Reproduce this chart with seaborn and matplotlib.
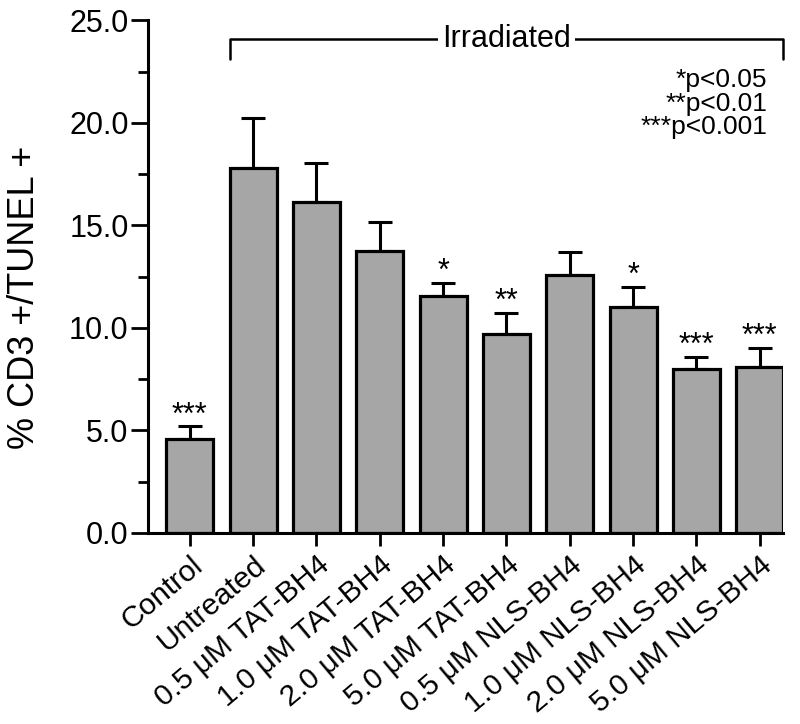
import numpy as np
import pandas as pd
import matplotlib
matplotlib.use("Agg")
import matplotlib.pyplot as plt
from matplotlib.ticker import MultipleLocator, FormatStrFormatter
import seaborn as sns

# values
groups = [
    "Control",
    "Untreated",
    "0.5 \u03bcM TAT-BH4",
    "1.0 \u03bcM TAT-BH4",
    "2.0 \u03bcM TAT-BH4",
    "5.0 \u03bcM TAT-BH4",
    "0.5 \u03bcM NLS-BH4",
    "1.0 \u03bcM NLS-BH4",
    "2.0 \u03bcM NLS-BH4",
    "5.0 \u03bcM NLS-BH4",
]
means = [4.59, 17.78, 16.12, 13.76, 11.56, 9.68, 12.57, 11.01, 7.97, 8.08]
upper = [5.19, 20.24, 18.02, 15.16, 12.21, 10.73, 13.68, 11.99, 8.60, 9.01]
stars = ["***", "", "", "", "*", "**", "", "*", "***", "***"]

sns.set_style("ticks", {
    "text.color": "black", "axes.labelcolor": "black",
    "xtick.color": "black", "ytick.color": "black",
    "axes.edgecolor": "black",
})
plt.rcParams["font.family"] = ["Liberation Sans", "DejaVu Sans"]

df = pd.DataFrame({"group": groups, "pct": means})
err = np.array(upper) - np.array(means)

fig, ax = plt.subplots(figsize=(8, 7.24), dpi=100)
fig.subplots_adjust(left=0.185, right=0.979, bottom=0.264, top=0.972)

sns.barplot(
    data=df, x="group", y="pct",
    color="#a6a6a6", edgecolor="black", linewidth=2.3,
    width=0.74, saturation=1, ax=ax, zorder=2
)

xs = np.arange(len(groups))
ax.errorbar(
    xs, means, yerr=[np.zeros(len(err)), err],
    fmt="none", ecolor="black", elinewidth=2.2,
    capsize=8.5, capthick=2.2, zorder=1
)

for x, top, s in zip(xs, upper, stars):
    if s:
        ax.annotate(s, (x, top), xytext=(0, -3), textcoords="offset points",
                    ha="center", va="bottom", fontsize=22)

ax.set_xlim(-0.66, 9.37)
ax.set_ylim(0, 25)
ax.yaxis.set_major_locator(MultipleLocator(5))
ax.yaxis.set_minor_locator(MultipleLocator(2.5))
ax.yaxis.set_major_formatter(FormatStrFormatter("%.1f"))
ax.tick_params(axis="y", which="major", length=12, width=2, labelsize=22, pad=2)
ax.tick_params(axis="y", which="minor", length=7, width=2)
ax.tick_params(axis="x", length=9, width=2, labelsize=21.5, pad=4)
plt.setp(ax.get_xticklabels(), rotation=40, ha="right", rotation_mode="anchor")

ax.set_xlabel("")
ax.set_ylabel("% CD3 +/TUNEL +", fontsize=26)
ax.yaxis.set_label_coords(-0.167, 0.46)

sns.despine(ax=ax)
for side in ["left", "bottom"]:
    ax.spines[side].set_linewidth(2.2)

# bracket over the irradiated groups
bx0, bx1 = 1 - 0.37, 9 + 0.37
ax.plot([bx0, bx0, bx1, bx1], [23.1, 24.1, 24.1, 23.1],
        color="black", lw=1.8, clip_on=False)
ax.text((bx0 + bx1) / 2, 24.1, "Irradiated", ha="center", va="center",
        fontsize=22, bbox=dict(facecolor="white", edgecolor="none", pad=3))

ax.text(9.12, 22.65, "*p<0.05\n**p<0.01\n***p<0.001", ha="right", va="top",
        fontsize=19, multialignment="right", linespacing=0.95)

plt.savefig("out.png", dpi=100)
